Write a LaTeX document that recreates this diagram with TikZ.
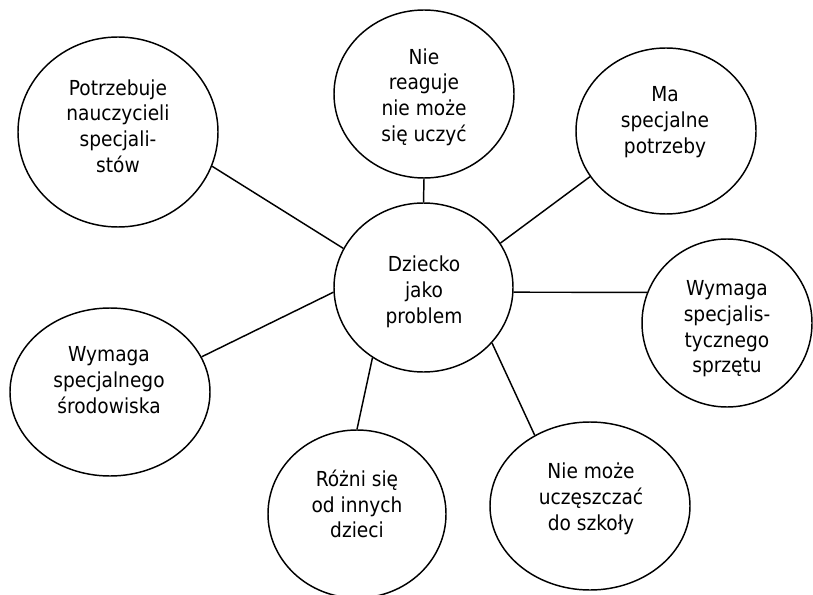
\documentclass[tikz,border=0pt]{standalone}
\usepackage{fontspec}
\setmainfont{DejaVu Sans Condensed}
\usetikzlibrary{shapes.geometric}
\begin{document}
\begin{tikzpicture}[x=0.75pt,y=-0.75pt,
  bubble/.style={ellipse, draw, line width=1.1pt, inner sep=0pt},
  txt/.style={align=center, inner sep=0pt, font=\fontsize{15.5}{19.3}\selectfont},
  link/.style={line width=1.1pt}]
\path[use as bounding box, fill=white] (0,0) rectangle (813,595);
% ellipses
\node[bubble, minimum width=150pt, minimum height=142.5pt] (e1) at (118,132) {};
\node[bubble, minimum width=135pt, minimum height=126pt] (e2) at (424,94) {};
\node[bubble, minimum width=135pt, minimum height=124.5pt] (e3) at (666,131) {};
\node[bubble, minimum width=134.25pt, minimum height=126.75pt] (c) at (423.5,287.5) {};
\node[bubble, minimum width=127.5pt, minimum height=126pt] (e5) at (727,323) {};
\node[bubble, minimum width=150pt, minimum height=126pt] (e6) at (110,392) {};
\node[bubble, minimum width=133.5pt, minimum height=126pt] (e7) at (357,514) {};
\node[bubble, minimum width=150pt, minimum height=126pt] (e8) at (590,506) {};
% texts
\node[txt] (t1) at (118,126) {Potrzebuje\\nauczycieli\\specjali-\\stów};
\node[txt] (t2) at (424,97) {Nie\\reaguje\\nie może\\się uczyć};
\node[txt] (t3) at (665,122) {Ma\\specjalne\\potrzeby};
\node[txt] (tc) at (424,292) {Dziecko\\jako\\problem};
\node[txt] (t5) at (727,329) {Wymaga\\specjalis-\\tycznego\\sprzętu};
\node[txt] (t6) at (109,380) {Wymaga\\specjalnego\\środowiska};
\node[txt] (t7) at (357,504) {Różni się\\od innych\\dzieci};
\node[txt] (t8) at (591,499) {Nie może\\uczęszczać\\do szkoły};
% connectors
\draw[link] (c.154.7) -- (e1.-20.6);
\draw[link] (c.90) -- (e2.-90);
\draw[link] (c.30.2) -- (e3.211.2);
\draw[link] (c.-3.5) -- (e5.159.4);
\draw[link] (c.183.6) -- (e6.21.9);
\draw[link] (c.234.9) -- (e7.90);
\draw[link] (c.-39.8) -- (e8.128.6);
\end{tikzpicture}
\end{document}
